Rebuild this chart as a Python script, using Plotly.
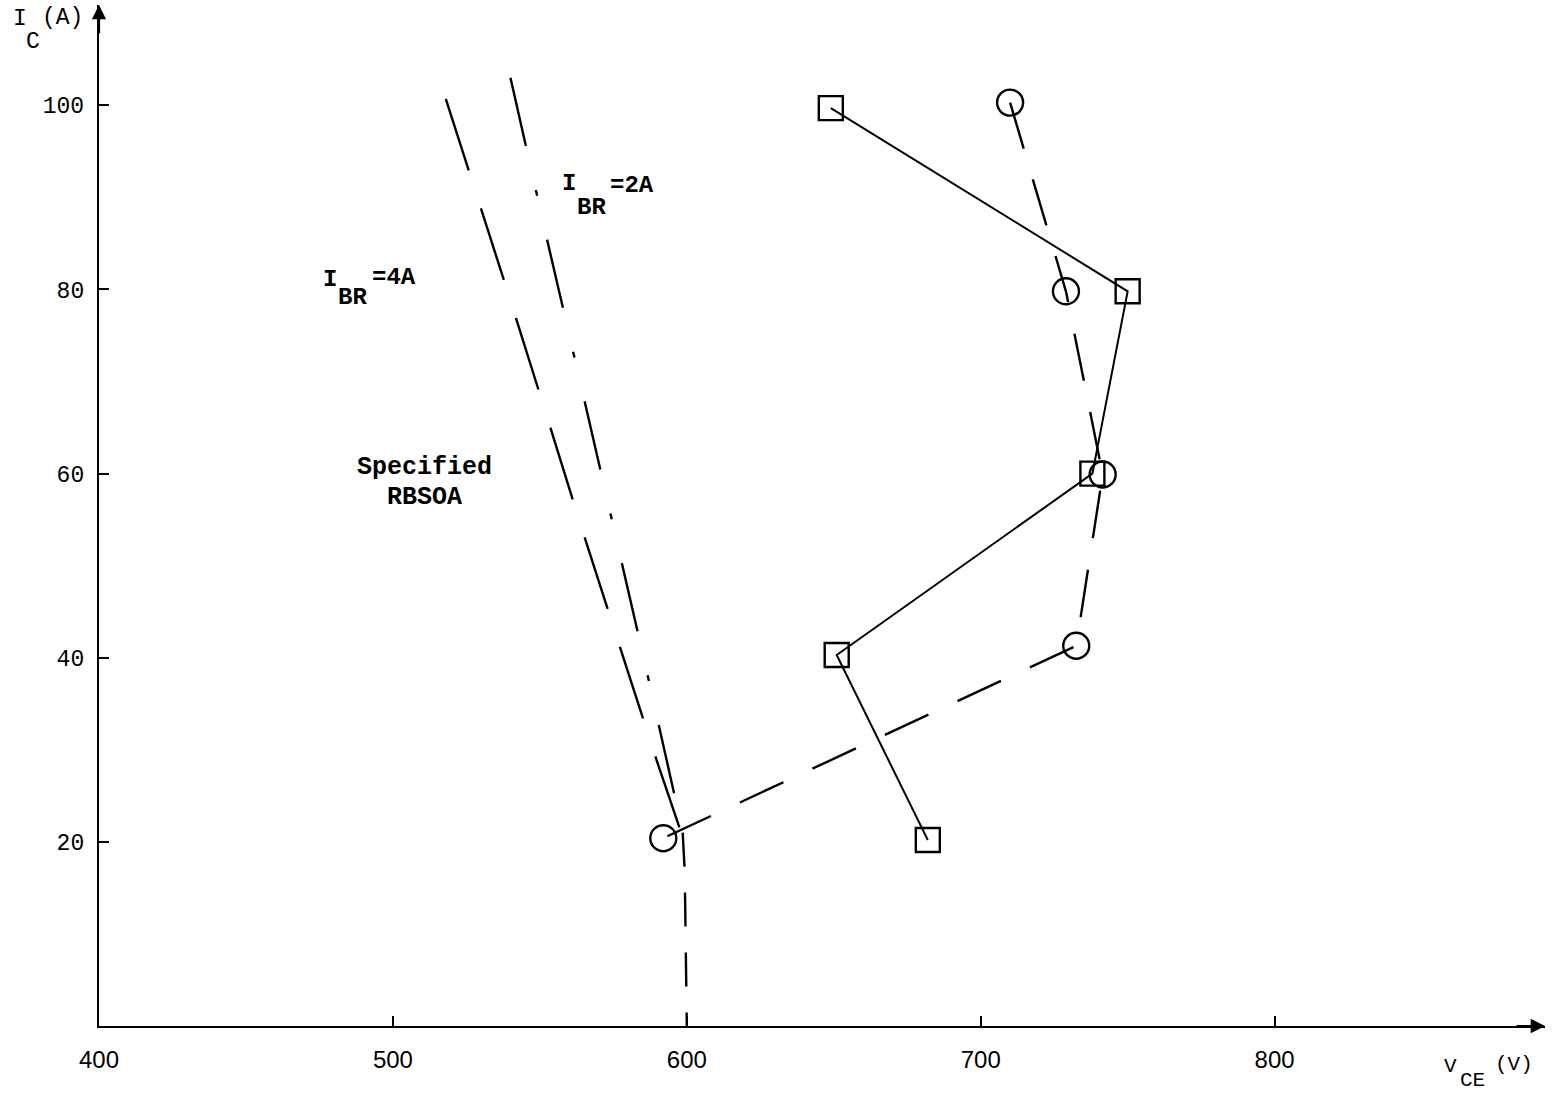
import plotly.graph_objects as go

# Square-marker series (solid line)
sq_v = [649, 750, 738, 651, 682]
sq_i = [99.7, 79.8, 60.0, 40.3, 20.2]

# Circle-marker series (dashed line)
ci_v = [710, 729, 741.5, 732.5, 592]
ci_i = [100.3, 79.8, 59.9, 41.3, 20.4]

# I_BR = 4A boundary
b4_v = [518.0, 526.4, 539.0, 552.5, 564.4, 577.0, 589.8, 598.3]
b4_i = [100.7, 92.4, 79.8, 66.1, 53.9, 41.4, 28.8, 20.8]

# I_BR = 2A boundary
b2_v = [540.0, 552.9, 564.4, 573.6, 586.1, 598.6]
b2_i = [103.0, 84.8, 69.0, 56.3, 38.9, 21.1]

# common vertical tail
tail_v = [598.6, 599.3, 600.0]
tail_i = [21.0, 16.8, 0.0]

x_ticks = [400, 500, 600, 700, 800]
y_ticks = [20, 40, 60, 80, 100]

X_RANGE = [400, 892]
Y_RANGE = [0, 110.9]

W, H = 1553, 1095
ML, MR, MT, MB = 99, 8, 5, 69
PW, PH = W - ML - MR, H - MT - MB

fig = go.Figure()

fig.add_trace(go.Scatter(x=b4_v, y=b4_i, mode="lines",
                         line=dict(color="black", width=2.4, dash="75px,40px"),
                         showlegend=False))
fig.add_trace(go.Scatter(x=b2_v, y=b2_i, mode="lines",
                         line=dict(color="black", width=2.4, dash="70px,45px,6px,45px"),
                         showlegend=False))
fig.add_trace(go.Scatter(x=tail_v, y=tail_i, mode="lines",
                         line=dict(color="black", width=2.4, dash="34px,26px"),
                         showlegend=False))
fig.add_trace(go.Scatter(x=sq_v, y=sq_i, mode="lines+markers",
                         line=dict(color="black", width=2),
                         marker=dict(symbol="square-open", size=24, color="black",
                                     line=dict(width=2.4, color="black")),
                         cliponaxis=False, showlegend=False))
fig.add_trace(go.Scatter(x=ci_v, y=ci_i, mode="lines+markers",
                         line=dict(color="black", width=2.4, dash="48px,32px"),
                         marker=dict(symbol="circle-open", size=26, color="black",
                                     line=dict(width=2.4, color="black")),
                         cliponaxis=False, showlegend=False))

mono = "Liberation Mono, Courier New, monospace"


def label(text, px, py, size, bold=False, anchor="left"):
    """Place a text by page pixel position (left edge / vertical centre)."""
    t = f"<b>{text}</b>" if bold else text
    fig.add_annotation(x=(px - ML) / PW, y=(H - MB - py) / PH,
                       xref="paper", yref="paper", xanchor=anchor, yanchor="middle",
                       text=t, showarrow=False, borderpad=0,
                       font=dict(family=mono, size=size, color="black"))


# I_BR = 2A
label("I", 561, 183, 24, True)
label("BR", 576, 207, 24, True)
label("=2A", 609, 185, 24, True)
# I_BR = 4A
label("I", 322, 279, 24, True)
label("BR", 337, 297, 24, True)
label("=4A", 371, 277, 24, True)
# Specified RBSOA
label("Specified", 424, 467, 25, True, "center")
label("RBSOA", 424, 497, 25, True, "center")
# axis titles
label("I", 12, 19, 23)
label("C", 25, 42, 23)
label("(A)", 41, 18, 23)
label("V", 1443, 1066, 21)
label("CE", 1459, 1080, 21)
label("(V)", 1494, 1064, 21)

# axis arrowheads
fig.add_annotation(x=X_RANGE[1], y=0, xref="x", yref="y", ax=-30, ay=0,
                   text="", showarrow=True, arrowhead=2, arrowsize=1.3,
                   arrowwidth=2.2, arrowcolor="black")
fig.add_annotation(x=400, y=Y_RANGE[1], xref="x", yref="y", ax=0, ay=30,
                   text="", showarrow=True, arrowhead=2, arrowsize=1.3,
                   arrowwidth=2.2, arrowcolor="black")

fig.update_layout(
    width=W, height=H,
    margin=dict(l=ML, r=MR, t=MT, b=MB),
    paper_bgcolor="white", plot_bgcolor="white",
    xaxis=dict(range=X_RANGE, tickvals=x_ticks, ticktext=[str(v) for v in x_ticks],
               ticks="inside", ticklen=10, tickwidth=2, tickcolor="black",
               showline=True, linewidth=2.4, linecolor="black",
               showgrid=False, zeroline=False, ticklabelstandoff=11,
               tickfont=dict(family="Liberation Sans, Arial, sans-serif", size=24, color="black")),
    yaxis=dict(range=Y_RANGE, tickvals=y_ticks, ticktext=[str(v) for v in y_ticks],
               ticks="inside", ticklen=10, tickwidth=2, tickcolor="black",
               showline=True, linewidth=2.4, linecolor="black",
               showgrid=False, zeroline=False, ticklabelstandoff=8,
               tickfont=dict(family=mono, size=23, color="black")),
)

fig.write_html("out.html")
